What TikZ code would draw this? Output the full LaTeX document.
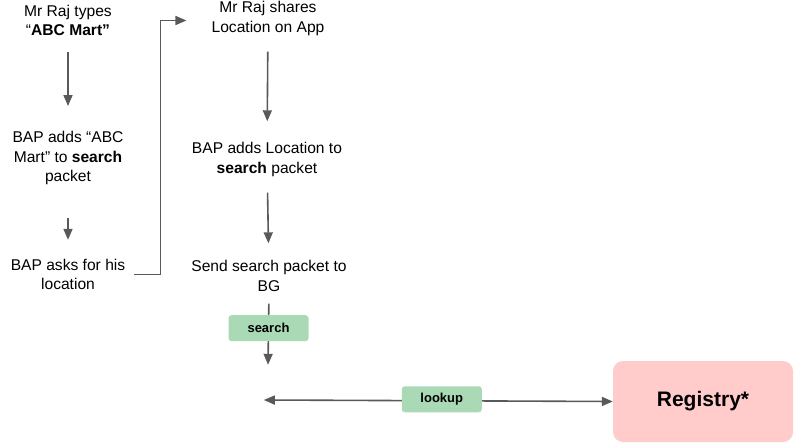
\documentclass[tikz,border=0pt]{standalone}
\usepackage{fontspec}
\setmainfont{Liberation Sans}
\usetikzlibrary{arrows.meta}

\definecolor{flowgray}{HTML}{595959}
\definecolor{taggreen}{HTML}{A9DAB5}
\definecolor{regpink}{HTML}{FFCBCB}

\tikzset{
  >={Triangle[length=11pt,width=9pt]},
  stepnode/.style={align=center,inner sep=0pt,font=\fontsize{15.6}{19.5}\selectfont},
  flow/.style={draw=flowgray,line width=1.6pt,->},
  tagbox/.style={fill=taggreen,rounded corners=3pt,minimum width=80pt,minimum height=26pt,
    inner sep=0pt,font=\bfseries\fontsize{13}{15}\selectfont},
}

\begin{document}
\begin{tikzpicture}[x=1pt,y=-1pt]
    \useasboundingbox (0,0) rectangle (794,443);
    \node[stepnode] (types) at (68,20.5) {Mr Raj types\\“\textbf{ABC Mart”}};
    \node[stepnode] (addname) at (68,158) {BAP adds “ABC\\Mart” to \textbf{search}\\packet};
    \node[stepnode] (askloc) at (68,274.5) {BAP asks for his\\location};
    \node[stepnode] (shareloc) at (268,18.5) {Mr Raj shares\\Location on App};
    \node[stepnode] (addloc) at (267,159.5) {BAP adds Location to\\\textbf{search} packet};
    \node[stepnode] (send) at (269,276) {Send search packet to\\BG};
    \node[inner sep=0pt,minimum width=8pt,minimum height=70pt] (bg) at (268,400) {};
    \node[fill=regpink,rounded corners=10pt,minimum width=180pt,minimum height=81pt,
      font=\bfseries\fontsize{21}{24}\selectfont] (reg) at (703,401.5) {Registry*};
    \draw[flow,shorten <=16pt,shorten >=25pt] (types) -- (addname);
    \draw[flow,shorten <=33pt,shorten >=19pt] (addname) -- (askloc);
    \draw[flow,shorten <=9pt,shorten >=25pt]
      (askloc.east) -- ++(35,0) |- ([yshift=-2pt]shareloc.west);
    \draw[flow,shorten <=16pt,shorten >=21pt] (shareloc) -- (addloc);
    \draw[flow,shorten <=16pt,shorten >=17pt] (addloc) -- (send);
    \draw[flow,shorten <=12pt] (send.south) -- node[tagbox,pos=0.5] {search} (bg.north);
    \draw[flow,<->] (bg.west) -- node[tagbox,pos=0.51,yshift=1.5pt] {lookup} (reg.west);
\end{tikzpicture}
\end{document}
